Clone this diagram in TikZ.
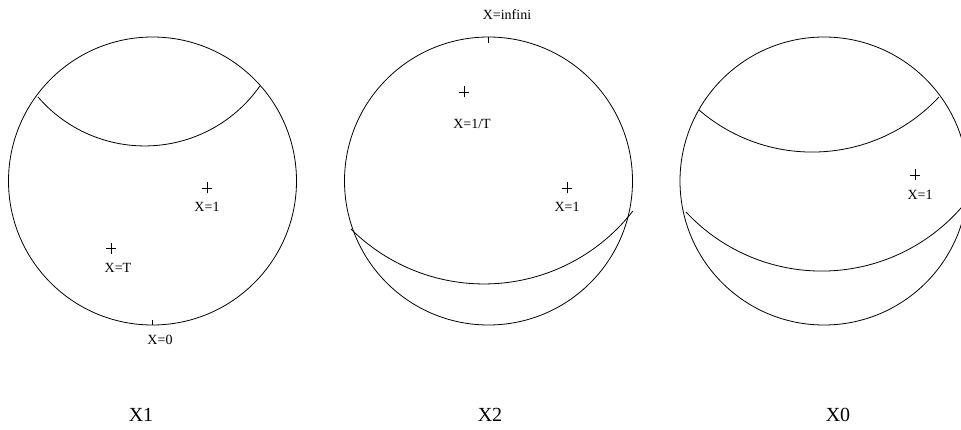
\documentclass[tikz,border=0pt]{standalone}
\usepackage{fontspec}
\setmainfont{Liberation Serif}
\begin{document}
\begin{tikzpicture}[x=1pt,y=1pt,line width=0.8pt,
  small/.style={inner sep=0pt,font=\fontsize{14}{16}\selectfont},
  big/.style={inner sep=0pt,font=\fontsize{20}{22}\selectfont}]
\useasboundingbox (0,0) rectangle (961,429);
\clip (0,0) rectangle (961,429);
% circles
\draw (152.5,248) circle[radius=144];
\draw (488.5,248) circle[radius=144];
\draw (824,248) circle[radius=144];
% arcs
\draw (38,332) arc[start angle=220.7, end angle=325, radius=140.7];
\draw (351,200) arc[start angle=225.1, end angle=322.2, radius=188.4];
\draw (699,319) arc[start angle=229.24, end angle=316.96, radius=173.4];
\draw (686,217) arc[start angle=222.96, end angle=322, radius=185.4];
% ticks
\coordinate (t1a) at (152.5,104); \coordinate (t1b) at (152.5,109);
\draw (t1a) -- (t1b);
\coordinate (t2a) at (488.5,392); \coordinate (t2b) at (488.5,386);
\draw (t2a) -- (t2b);
% crosses
\coordinate (p1) at (207,241);
\coordinate (p2) at (111,181);
\coordinate (p3) at (464,337);
\coordinate (p4) at (567,241);
\coordinate (p5) at (915,254);
\foreach \n in {p1,p2,p3,p4,p5}{
  \draw ([xshift=-5pt]\n) -- ([xshift=5pt]\n);
  \draw ([yshift=-5.5pt]\n) -- ([yshift=5.5pt]\n);
}
% labels
\node[small] (l1) at (207,222) {X=1};
\node[small] (l2) at (118,161) {X=T};
\node[small] (l3) at (160,89) {X=0};
\node[small] (l4) at (507,414) {X=infini};
\node[small] (l5) at (472,305) {X=1/T};
\node[small] (l6) at (567,222) {X=1};
\node[small] (l7) at (920,234) {X=1};
\node[big] (b1) at (141,14) {X1};
\node[big] (b2) at (490,14) {X2};
\node[big] (b3) at (838,14) {X0};
\end{tikzpicture}
\end{document}
